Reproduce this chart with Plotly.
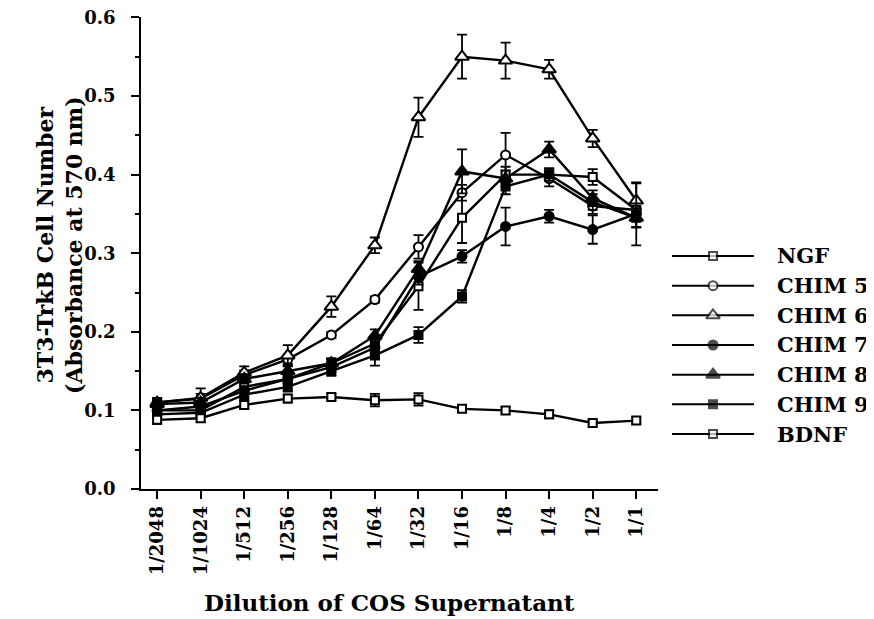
import plotly.graph_objects as go

dilutions = ["1/2048", "1/1024", "1/512", "1/256", "1/128", "1/64",
             "1/32", "1/16", "1/8", "1/4", "1/2", "1/1"]

y_ticks = [0.0, 0.1, 0.2, 0.3, 0.4, 0.5, 0.6]
y_ticklabels = ["0.0", "0.1", "0.2", "0.3", "0.4", "0.5", "0.6"]

ngf = [0.100, 0.100, 0.130, 0.140, 0.160, 0.185, 0.258, 0.345, 0.400, 0.400, 0.397, 0.355]
ngf_err = [0.005, 0.005, 0.006, 0.006, 0.006, 0.010, 0.030, 0.032, 0.010, 0.008, 0.010, 0.012]

chim5 = [0.110, 0.115, 0.145, 0.165, 0.196, 0.241, 0.308, 0.377, 0.425, 0.395, 0.360, 0.355]
chim5_err = [0.005, 0.006, 0.006, 0.006, 0.004, 0.004, 0.015, 0.010, 0.028, 0.010, 0.010, 0.010]

chim6 = [0.110, 0.116, 0.148, 0.170, 0.232, 0.310, 0.473, 0.550, 0.545, 0.534, 0.446, 0.367]
chim6_err = [0.006, 0.012, 0.008, 0.013, 0.013, 0.010, 0.025, 0.028, 0.023, 0.012, 0.011, 0.022]

chim7 = [0.100, 0.105, 0.125, 0.140, 0.155, 0.180, 0.270, 0.296, 0.334, 0.347, 0.330, 0.350]
chim7_err = [0.005, 0.005, 0.006, 0.006, 0.006, 0.008, 0.010, 0.008, 0.024, 0.008, 0.018, 0.040]

chim8 = [0.108, 0.110, 0.140, 0.150, 0.160, 0.195, 0.280, 0.404, 0.395, 0.432, 0.370, 0.345]
chim8_err = [0.006, 0.006, 0.006, 0.006, 0.006, 0.008, 0.010, 0.028, 0.010, 0.010, 0.010, 0.012]

chim9 = [0.095, 0.097, 0.120, 0.130, 0.150, 0.170, 0.196, 0.245, 0.385, 0.400, 0.365, 0.345]
chim9_err = [0.005, 0.005, 0.006, 0.006, 0.006, 0.013, 0.010, 0.008, 0.010, 0.008, 0.010, 0.012]

bdnf = [0.088, 0.090, 0.107, 0.115, 0.117, 0.113, 0.114, 0.102, 0.100, 0.095, 0.084, 0.087]
bdnf_err = [0.005, 0.005, 0.005, 0.005, 0.004, 0.008, 0.008, 0.004, 0.004, 0.005, 0.004, 0.004]

series_names = ["NGF", "CHIM 5", "CHIM 6", "CHIM 7", "CHIM 8", "CHIM 9", "BDNF"]
series_vals = [ngf, chim5, chim6, chim7, chim8, chim9, bdnf]
series_errs = [ngf_err, chim5_err, chim6_err, chim7_err, chim8_err, chim9_err, bdnf_err]

styles = {
    "NGF":    dict(symbol="square", color="white", size=8),
    "CHIM 5": dict(symbol="circle", color="white", size=9),
    "CHIM 6": dict(symbol="triangle-up", color="white", size=12),
    "CHIM 7": dict(symbol="circle", color="black", size=9),
    "CHIM 8": dict(symbol="triangle-up", color="black", size=12),
    "CHIM 9": dict(symbol="square", color="black", size=8),
    "BDNF":   dict(symbol="square", color="white", size=8),
}

FONT = "DejaVu Serif"
fig = go.Figure()

for name, vals, errs in zip(series_names, series_vals, series_errs):
    st = styles[name]
    fig.add_trace(go.Scatter(
        x=dilutions, y=vals, mode="lines+markers", name=name,
        line=dict(color="black", width=2.4),
        marker=dict(symbol=st["symbol"], size=st["size"], color=st["color"],
                    line=dict(color="black", width=2)),
        error_y=dict(type="data", array=errs, visible=True,
                     color="black", thickness=1.8, width=5),
        showlegend=False,
    ))

# custom legend drawn on an auxiliary axis pair
for i, name in enumerate(series_names):
    st = styles[name]
    fig.add_trace(go.Scatter(
        x=[0, 1, 2], y=[i, i, i], xaxis="x2", yaxis="y2",
        mode="lines+markers",
        line=dict(color="black", width=2),
        marker=dict(symbol=st["symbol"], size=[0, st["size"], 0],
                    color=st["color"], line=dict(color="black", width=[0, 2, 0])),
        showlegend=False, hoverinfo="skip",
    ))
    fig.add_annotation(
        x=0.867, xref="paper", y=i, yref="y2", text=name,
        showarrow=False, xanchor="left", yanchor="middle",
        font=dict(family=FONT, size=21, color="black", weight="bold"),
    )

tickfont = dict(family=FONT, size=18, color="black", weight="bold")

fig.update_layout(
    width=874, height=619,
    margin=dict(l=133, r=10, t=9, b=138, autoexpand=False),
    paper_bgcolor="white", plot_bgcolor="white",
    font=dict(family=FONT, color="black"),
    xaxis=dict(
        domain=[0, 0.7073], type="category", range=[-0.37, 11.5], automargin=False,
        showline=True, linecolor="black", linewidth=1.8,
        ticks="outside", ticklen=8, tickwidth=1.8, tickcolor="black",
        tickangle=-90, showgrid=False, zeroline=False,
        tickfont=tickfont,
    ),
    yaxis=dict(
        range=[0, 0.6005], tickmode="array", tickvals=y_ticks, ticktext=y_ticklabels,
        automargin=False,
        showline=True, linecolor="black", linewidth=1.8,
        ticks="outside", ticklen=8, tickwidth=1.8, tickcolor="black",
        ticklabelstandoff=12, ticklabeloverflow="allow",
        minor=dict(dtick=0.05, tick0=0, ticks="outside", ticklen=4, tickcolor="black", tickwidth=1.5),
        showgrid=False, zeroline=False,
        tickfont=tickfont,
    ),
    xaxis2=dict(domain=[0.7264, 0.8386], range=[0, 2], visible=False, anchor="y2"),
    yaxis2=dict(domain=[0.0851, 0.5251], range=[6.5, -0.5], visible=False, anchor="x2"),
)

fig.add_annotation(
    x=0.3406, xref="paper", y=-0.2415, yref="paper",
    text="Dilution of COS Supernatant", showarrow=False,
    xanchor="center", yanchor="middle",
    font=dict(family=FONT, size=23, color="black", weight="bold"),
)
fig.add_annotation(
    x=-0.1108, xref="paper", y=0.517, yref="paper",
    text="3T3-TrkB Cell Number<br>(Absorbance at 570 nm)", showarrow=False,
    textangle=-90, xanchor="center", yanchor="middle",
    font=dict(family=FONT, size=22, color="black", weight="bold"),
)

fig.write_html("out.html")
